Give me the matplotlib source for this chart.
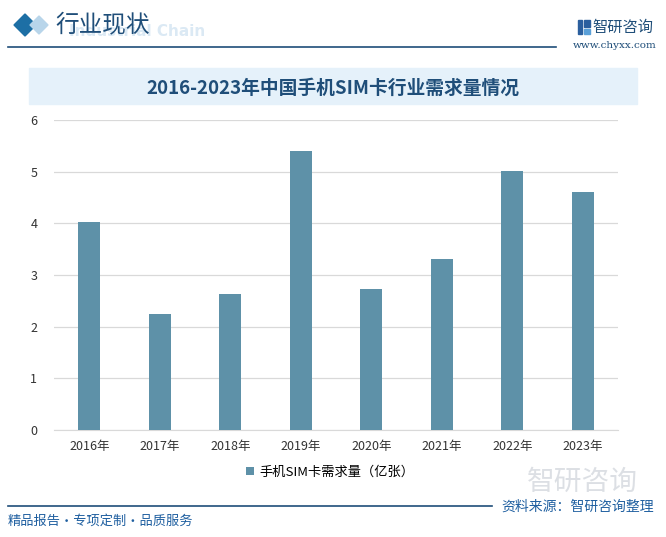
import matplotlib
matplotlib.use("Agg")
import matplotlib.pyplot as plt
from matplotlib.patches import Rectangle, Polygon

plt.rcParams['font.family'] = ['Noto Sans CJK SC', 'DejaVu Sans']

# données
annees = ['2016年', '2017年', '2018年', '2019年', '2020年', '2021年', '2022年', '2023年']
demande = [4.02, 2.25, 2.63, 5.40, 2.73, 3.31, 5.01, 4.61]
nom_serie = '手机SIM卡需求量（亿张）'
titre = '2016-2023年中国手机SIM卡行业需求量情况'

couleur_barre = '#5e91a8'

fig = plt.figure(figsize=(6.66, 5.37), dpi=100)
W, H = 666, 537

def px(x, y):
    return x / W, 1 - y / H

# en-tete
fig.text(*px(205, 31), 'Industrial Chain', fontsize=11, color='#dbe9f4', fontweight='bold',
         ha='right', va='center', family='DejaVu Sans', zorder=0)
fig.patches.append(Polygon([px(14, 25), px(25, 14), px(36, 25), px(25, 36)], closed=True,
                           transform=fig.transFigure, color='#1d6fa5'))
fig.patches.append(Polygon([px(30, 25), px(39, 16), px(48, 25), px(39, 34)], closed=True,
                           transform=fig.transFigure, color='#b8d5ea'))
fig.text(*px(55, 25), '行业现状', fontsize=17, color='#1f4e79', ha='left', va='center',
         zorder=2)
fig.add_artist(plt.Line2D([8 / W, 556 / W], [1 - 47 / H] * 2, color='#1f4e79', lw=1.2))

# petit logo
fig.patches.append(Rectangle(px(578, 34), 4 / W, 14 / H, transform=fig.transFigure,
                             color='#2b5f9e'))
fig.patches.append(Rectangle(px(584, 27), 6 / W, 7 / H, transform=fig.transFigure,
                             color='#2b5f9e'))
fig.patches.append(Rectangle(px(584, 34), 6 / W, 5 / H, transform=fig.transFigure,
                             color='#5aa0d8'))
fig.text(*px(623, 27), '智研咨询', fontsize=11, color='#1f4e79', ha='center', va='center')
fig.text(*px(615, 46), 'www.chyxx.com', fontsize=7.5, color='#1f4e79', ha='center',
         va='center', family='DejaVu Serif')

# bandeau du titre
fig.patches.append(Rectangle(px(29, 104), 608 / W, 36 / H, transform=fig.transFigure,
                             color='#e5f1fa', zorder=0))
fig.text(*px(333, 88), titre, fontsize=13.5, color='#1f4e79', fontweight='bold',
         ha='center', va='center')

# graphique
ax = fig.add_axes([54 / W, 1 - 430 / H, 564 / W, 310 / H])
x = range(len(annees))
ax.bar(x, demande, width=0.31, color=couleur_barre, label=nom_serie, zorder=3)
ax.set_xlim(-0.5, len(annees) - 0.5)
ax.set_ylim(0, 6)
ax.set_yticks(range(0, 7))
ax.set_xticks(list(x))
ax.set_xticklabels(annees)
ax.grid(axis='y', color='#d9d9d9', lw=0.9, zorder=0)
for s in ['top', 'right', 'left']:
    ax.spines[s].set_visible(False)
ax.spines['bottom'].set_color('#d9d9d9')
ax.tick_params(axis='both', length=0, labelsize=9, colors='#333333')
ax.tick_params(axis='y', pad=12)
ax.tick_params(axis='x', pad=7)
ax.set_facecolor('none')

leg = fig.legend(loc='center', bbox_to_anchor=px(330, 472), frameon=False, fontsize=9.5,
                 handlelength=0.6, handleheight=0.6, handletextpad=0.4)

# filigrane
fig.text(*px(582, 482), '智研咨询', fontsize=20, color='#d4d8de', ha='center', va='center',
         alpha=0.8, zorder=0)

# pied de page
fig.add_artist(plt.Line2D([8 / W, 492 / W], [1 - 506 / H] * 2, color='#1f4e79', lw=1.2))
fig.text(*px(654, 507), '资料来源：智研咨询整理', fontsize=10, color='#1f5fa0',
         ha='right', va='center')
fig.text(*px(8, 521), '精品报告・专项定制・品质服务', fontsize=9.5, color='#1f5fa0',
         ha='left', va='center')

fig.savefig('out.png', dpi=100)
